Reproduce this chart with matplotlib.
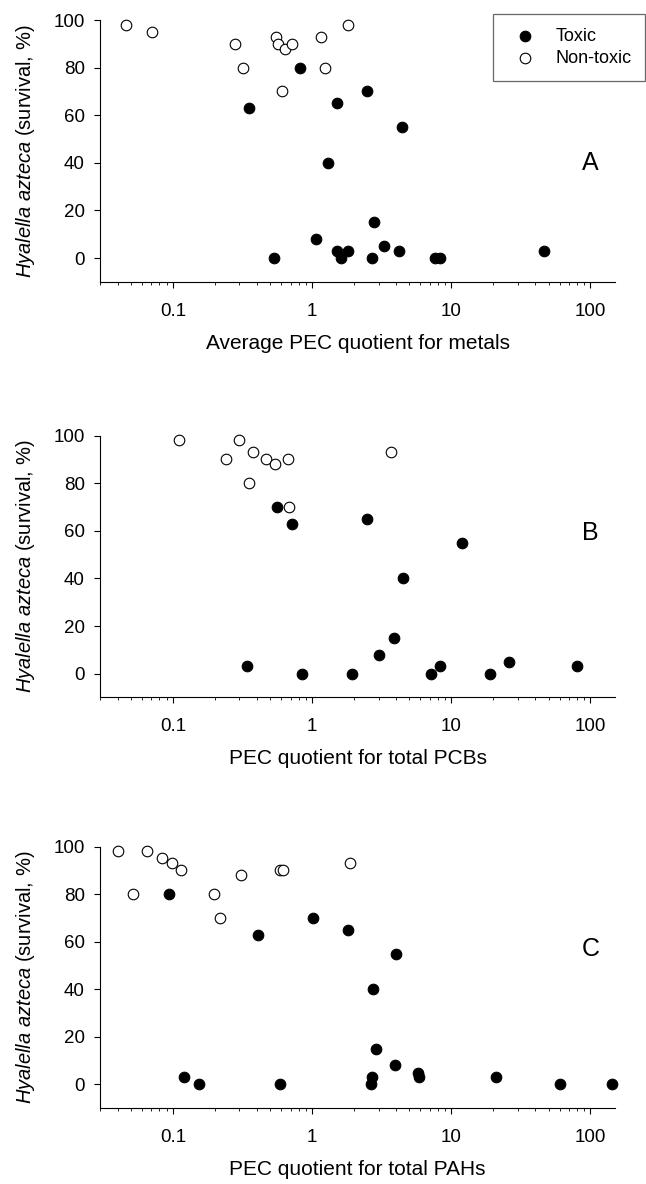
import matplotlib
matplotlib.use('Agg')
import matplotlib.pyplot as plt
from matplotlib.ticker import FixedLocator, LogLocator, NullFormatter, FuncFormatter

plt.rcParams['font.family'] = ['Liberation Sans', 'DejaVu Sans']
plt.rcParams['mathtext.fontset'] = 'custom'
plt.rcParams['mathtext.rm'] = 'Liberation Sans'
plt.rcParams['mathtext.it'] = 'Liberation Sans:italic'

# panel A - metals
metals_toxic_x = [0.35, 0.82, 1.5, 2.5, 4.4, 1.3, 2.8, 1.06, 0.53, 1.5, 1.6, 1.8, 2.7, 3.3, 4.2, 7.7, 8.3, 46]
metals_toxic_y = [63, 80, 65, 70, 55, 40, 15, 8, 0, 3, 0, 3, 0, 5, 3, 0, 0, 3]
metals_non_x = [0.046, 0.071, 0.28, 0.32, 0.55, 0.57, 0.64, 0.72, 0.61, 1.15, 1.24, 1.8]
metals_non_y = [98, 95, 90, 80, 93, 90, 88, 90, 70, 93, 80, 98]

# panel B - PCBs
pcb_toxic_x = [0.56, 0.72, 2.5, 12, 4.5, 3.9, 3.0, 0.34, 0.84, 1.94, 7.1, 8.3, 19, 26, 80]
pcb_toxic_y = [70, 63, 65, 55, 40, 15, 8, 3, 0, 0, 0, 3, 0, 5, 3]
pcb_non_x = [0.11, 0.24, 0.30, 0.375, 0.35, 0.47, 0.54, 0.67, 0.68, 3.7]
pcb_non_y = [98, 90, 98, 93, 80, 90, 88, 90, 70, 93]

# panel C - PAHs
pah_toxic_x = [0.093, 0.41, 1.02, 1.82, 4.0, 2.74, 2.87, 3.93, 0.121, 0.155, 0.59, 2.65, 2.70, 5.76, 5.84, 21, 60, 143]
pah_toxic_y = [80, 63, 70, 65, 55, 40, 15, 8, 3, 0, 0, 0, 3, 5, 3, 3, 0, 0]
pah_non_x = [0.040, 0.052, 0.065, 0.084, 0.098, 0.114, 0.196, 0.219, 0.306, 0.59, 0.62, 1.87]
pah_non_y = [98, 80, 98, 95, 93, 90, 80, 70, 88, 90, 90, 93]

x_labels = ['Average PEC quotient for metals',
            'PEC quotient for total PCBs',
            'PEC quotient for total PAHs']
panel_letters = ['A', 'B', 'C']
y_ticks = [0, 20, 40, 60, 80, 100]
x_ticks = [0.1, 1, 10, 100]


def draw_panel(ax, tox_x, tox_y, non_x, non_y, xlabel, letter, letter_y):
    ax.scatter(tox_x, tox_y, s=58, facecolor='black', edgecolor='black',
               linewidth=0.8, clip_on=False, zorder=3, label='Toxic')
    ax.scatter(non_x, non_y, s=58, facecolor='white', edgecolor='black',
               linewidth=0.8, clip_on=False, zorder=3, label='Non-toxic')
    ax.set_xscale('log')
    ax.set_xlim(0.03, 150)
    ax.set_ylim(-10, 100)
    ax.spines['top'].set_visible(False)
    ax.spines['right'].set_visible(False)
    ax.spines['left'].set_bounds(-10, 100)
    ax.yaxis.set_major_locator(FixedLocator(y_ticks))
    ax.xaxis.set_major_locator(FixedLocator(x_ticks))
    ax.xaxis.set_minor_locator(LogLocator(base=10, subs=range(2, 10)))
    ax.xaxis.set_minor_formatter(NullFormatter())
    ax.xaxis.set_major_formatter(FuncFormatter(lambda v, p: '%g' % v))
    ax.tick_params(axis='both', which='major', direction='out', length=4,
                   width=0.8, labelsize=13.5)
    ax.tick_params(axis='y', which='major', pad=7)
    ax.tick_params(axis='x', which='major', pad=11)
    ax.tick_params(axis='x', which='minor', direction='out', length=2.5, width=0.6)
    ax.set_xlabel(xlabel, fontsize=15, labelpad=10)
    ax.set_ylabel(r'$\it{Hyalella\ azteca}$ (survival, %)', fontsize=14.5, labelpad=12)
    ax.text(100, letter_y, letter, fontsize=18, ha='center', va='center')


def main():
    fig = plt.figure(figsize=(6.46, 11.84), dpi=100)
    bottoms = [0.762, 0.411, 0.064]
    data = [(metals_toxic_x, metals_toxic_y, metals_non_x, metals_non_y),
            (pcb_toxic_x, pcb_toxic_y, pcb_non_x, pcb_non_y),
            (pah_toxic_x, pah_toxic_y, pah_non_x, pah_non_y)]
    letter_ys = [40, 59, 57]
    axes = []
    for i in range(3):
        ax = fig.add_axes([0.155, bottoms[i], 0.797, 0.221])
        tx, ty, nx, ny = data[i]
        draw_panel(ax, tx, ty, nx, ny, x_labels[i], panel_letters[i], letter_ys[i])
        axes.append(ax)

    leg = axes[0].legend(loc='upper right', bbox_to_anchor=(645 / 646, 1 - 14 / 1184),
                         bbox_transform=fig.transFigure, fontsize=13,
                         frameon=True, fancybox=False, borderpad=0.75,
                         handlelength=2.0, handletextpad=0.7, labelspacing=0.3,
                         borderaxespad=0)
    leg.get_frame().set_edgecolor('#444444')
    leg.get_frame().set_linewidth(0.9)

    fig.savefig('out.png', dpi=100)


if __name__ == "__main__":
    main()
